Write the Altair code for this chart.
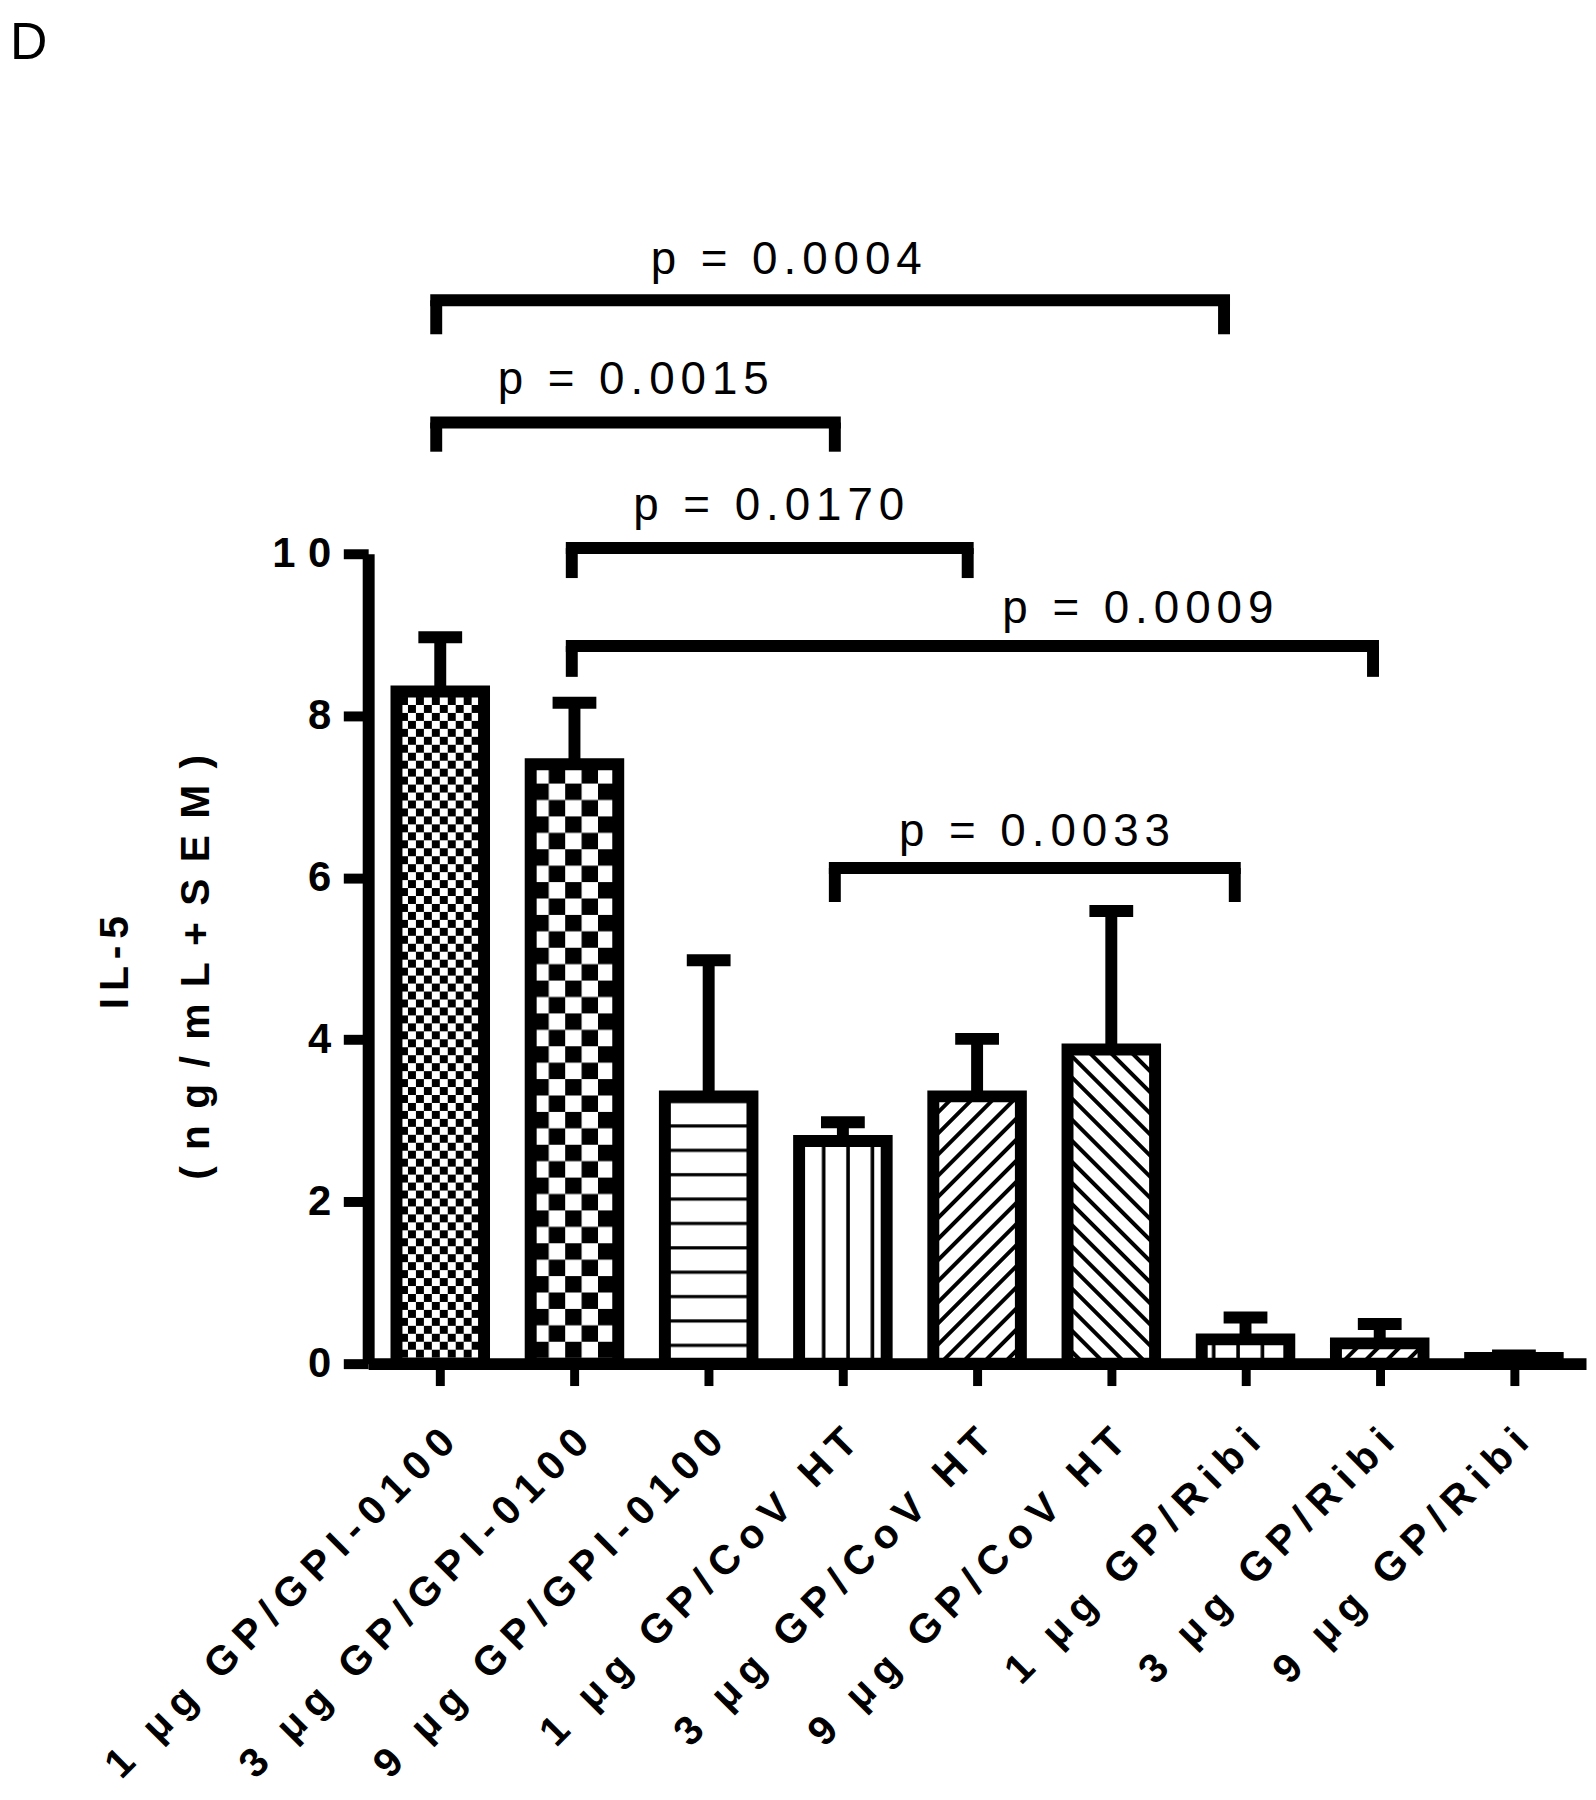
import json
import altair as alt
import pandas as pd

# ---------------- data ----------------
categories = ["1 μg GP/GPI-0100", "3 μg GP/GPI-0100", "9 μg GP/GPI-0100",
              "1 μg GP/CoV HT", "3 μg GP/CoV HT", "9 μg GP/CoV HT",
              "1 μg GP/Ribi", "3 μg GP/Ribi", "9 μg GP/Ribi"]
means = [8.30, 7.40, 3.30, 2.75, 3.30, 3.88, 0.30, 0.25, 0.07]
sems = [0.67, 0.76, 1.68, 0.23, 0.71, 1.71, 0.27, 0.24, 0.03]
y_ticks = [0, 2, 4, 6, 8, 10]

# significance brackets (positions in category-index units / y units)
p_labels = ["p = 0.0004", "p = 0.0015", "p = 0.0170", "p = 0.0009", "p = 0.0033"]
p_left = [-0.03, -0.03, 0.98, 0.98, 2.94]
p_right = [5.84, 2.94, 3.93, 6.95, 5.92]
p_level = [13.13, 11.62, 10.07, 8.86, 6.12]
p_leg_end = [12.71, 11.26, 9.70, 8.48, 5.70]
p_text_x = [2.60, 1.46, 2.47, 5.22, 4.45]
p_text_y = [13.46, 11.97, 10.42, 9.14, 6.39]

panel_label = ["D"]

# ---------------- styles ----------------
pattern_fills = ["url(#pat1)", "url(#pat2)", "url(#pat3)", "url(#pat4)", "url(#pat5)",
                 "url(#pat6)", "url(#pat4)", "url(#pat5)", "url(#pat6)"]
FONT = "Liberation Sans"

df = pd.DataFrame({"idx": list(range(len(categories))), "cat": categories,
                   "mean": means, "sem": sems})
ann = pd.DataFrame({"label": p_labels, "left": p_left, "right": p_right,
                    "level": p_level, "leg_end": p_leg_end,
                    "tx": p_text_x, "ty": p_text_y})
panel = pd.DataFrame({"panel": panel_label})

xscale = alt.Scale(domain=[-0.5, len(categories) - 0.5], nice=False, zero=False)
yscale = alt.Scale(domain=[0, 10], nice=False, zero=True)

label_expr = "[" + ",".join(json.dumps(c, ensure_ascii=False) for c in categories) + "][datum.value]"

x_axis = alt.Axis(values=list(range(len(categories))), labelExpr=label_expr,
                  labelAngle=-45, labelAlign="right", labelBaseline="top",
                  labelFont=FONT, labelFontSize=41, labelFontWeight="bold",
                  labelPadding=30, labelOffset=0, labelOverlap=False, labelFlush=False,
                  labelBound=False, labelLimit=2000, tickSize=22, tickWidth=9,
                  domainWidth=12, grid=False, title=None)
y_axis = alt.Axis(values=y_ticks, labelFont=FONT, labelFontSize=42, labelFontWeight="bold",
                  labelPadding=0, labelFlush=False, tickSize=25, tickWidth=10,
                  domainWidth=12, grid=False,
                  title=["IL-5", "(ng/mL+SEM)"], titleFont=FONT, titleFontSize=41,
                  titleFontWeight="bold", titleLineHeight=82, titleAngle=270,
                  titleX=-254, titleY=407, titleAlign="center", titleBaseline="middle")


def X(field):
    return alt.X(field, scale=xscale, axis=x_axis)


def Y(field):
    return alt.Y(field, scale=yscale, axis=y_axis)


base = alt.Chart(df)

bars = base.mark_bar(orient="vertical", size=88, stroke="black", strokeWidth=12).encode(
    x=X("idx:Q"),
    y=Y("mean:Q"),
    fill=alt.Fill("cat:N", scale=alt.Scale(domain=categories, range=pattern_fills), legend=None),
)

stems = base.transform_calculate(top="datum.mean + datum.sem").mark_rule(
    color="black", strokeWidth=12).encode(
    x=X("idx:Q"),
    y=Y("mean:Q"),
    y2="top:Q",
)

caps = base.transform_calculate(top="datum.mean + datum.sem").mark_tick(
    orient="horizontal", size=44, thickness=12, color="black", opacity=1).encode(
    x=X("idx:Q"),
    y=Y("top:Q"),
)

abase = alt.Chart(ann)
hbr = abase.mark_rule(color="black", strokeWidth=12, strokeCap="square").encode(
    x=X("left:Q"),
    x2="right:Q",
    y=Y("level:Q"),
)
legs = abase.transform_fold(["left", "right"], as_=["side", "pos"]).mark_rule(
    color="black", strokeWidth=12).encode(
    x=X("pos:Q"),
    y=Y("level:Q"),
    y2="leg_end:Q",
)
texts = abase.mark_text(font=FONT, fontSize=46, align="center", baseline="alphabetic",
                        color="black").encode(
    x=X("tx:Q"),
    y=Y("ty:Q"),
    text="label:N",
)

# panel letter in the top-left corner of the figure
letter = alt.Chart(panel).mark_text(font=FONT, fontSize=52, align="left",
                                     baseline="alphabetic", color="black").encode(
    x=alt.value(-360),
    y=alt.value(-497),
    text="panel:N",
)

chart = alt.layer(bars, stems, caps, hbr, legs, texts, letter).properties(
    width=1224, height=814,
    autosize=alt.AutoSizeParams(type="none"),
    padding={"left": 362, "top": 544, "right": 2, "bottom": 426},
).configure_view(stroke=None).configure_axis(
    domainColor="black", tickColor="black", labelColor="black", titleColor="black"
)

# ---------- page template: SVG hatch patterns + letter spacing ----------
PATTERNS = """
<svg width="0" height="0" style="position:absolute">
 <defs>
  <pattern id="pat1" patternUnits="userSpaceOnUse" width="16" height="16">
   <rect width="16" height="16" fill="white"/>
   <rect width="8" height="8" fill="black"/><rect x="8" y="8" width="8" height="8" fill="black"/>
  </pattern>
  <pattern id="pat2" patternUnits="userSpaceOnUse" width="33" height="33">
   <rect width="33" height="33" fill="white"/>
   <rect width="16.5" height="16.5" fill="black"/><rect x="16.5" y="16.5" width="16.5" height="16.5" fill="black"/>
  </pattern>
  <pattern id="pat3" patternUnits="userSpaceOnUse" width="24" height="24.5">
   <rect width="24" height="24.5" fill="white"/><rect y="10" width="24" height="3.2" fill="black"/>
  </pattern>
  <pattern id="pat4" patternUnits="userSpaceOnUse" width="24.5" height="24">
   <rect width="24.5" height="24" fill="white"/><rect x="15" width="3.6" height="24" fill="black"/>
  </pattern>
  <pattern id="pat5" patternUnits="userSpaceOnUse" width="15" height="15" patternTransform="rotate(-45)">
   <rect width="15" height="15" fill="white"/><rect y="5" width="15" height="4" fill="black"/>
  </pattern>
  <pattern id="pat6" patternUnits="userSpaceOnUse" width="15" height="15" patternTransform="rotate(45)">
   <rect width="15" height="15" fill="white"/><rect y="5" width="15" height="4" fill="black"/>
  </pattern>
 </defs>
</svg>
"""

TEMPLATE_SRC = """<!DOCTYPE html>
<html>
<head>
  <meta charset="utf-8">
  <style>
    #{{ output_div }}.vega-embed { width: 100%; display: flex; }
    #{{ output_div }}.vega-embed details,
    #{{ output_div }}.vega-embed details summary { position: relative; }
    #{{ output_div }} .role-axis-label text { letter-spacing: 0.22em; }
    #{{ output_div }} g[aria-label^="Y-axis"] .role-axis-label text { letter-spacing: 0.3em; }
    #{{ output_div }} .role-axis-title text tspan:nth-child(1) { letter-spacing: 0.17em; }
    #{{ output_div }} .role-axis-title text tspan:nth-child(2) { letter-spacing: 0.4em; }
    #{{ output_div }} .role-mark.mark-text text { letter-spacing: 0.13em; }
  </style>
  <script type="text/javascript" src="{{ base_url }}/vega@{{ vega_version }}"></script>
  <script type="text/javascript" src="{{ base_url }}/vega-lite@{{ vegalite_version }}"></script>
  <script type="text/javascript" src="{{ base_url }}/vega-embed@{{ vegaembed_version }}"></script>
</head>
<body>
""" + PATTERNS + """
  <div id="{{ output_div }}"></div>
  <script>
    (function(vegaEmbed) {
      var spec = {{ spec }};
      var embedOpt = {{ embed_options }};
      function showError(el, error){
          el.innerHTML = ('<div style="color:red;"><p>JavaScript Error: ' + error.message + '</p></div>');
          throw error;
      }
      const el = document.getElementById('{{ output_div }}');
      vegaEmbed("#{{ output_div }}", spec, embedOpt).catch(error => showError(el, error));
    })(vegaEmbed);
  </script>
</body>
</html>
"""

try:
    import jinja2
    chart.save("out.html", embed_options={"renderer": "svg", "actions": False},
               template=jinja2.Template(TEMPLATE_SRC))
except Exception:
    chart.save("out.html", embed_options={"renderer": "svg", "actions": False})
